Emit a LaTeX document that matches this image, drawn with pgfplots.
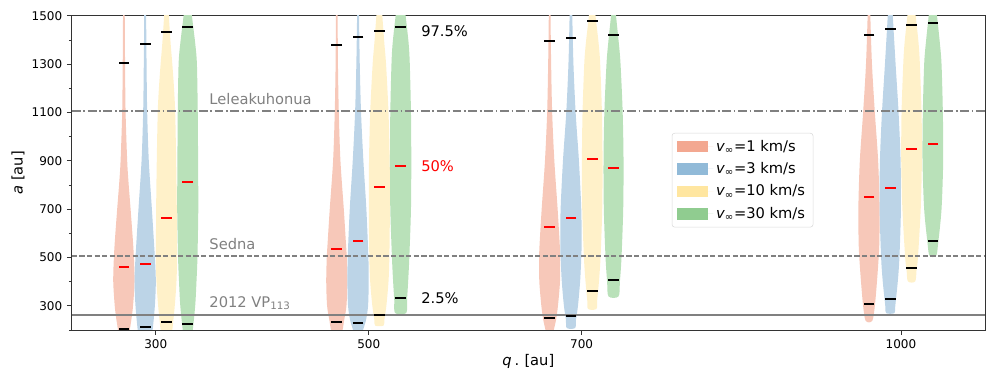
\documentclass[border=0pt]{standalone}
\usepackage{fontspec}
\setmainfont{DejaVu Sans}
\usepackage{pgfplots}
\usepackage{pgfplotstable}
\pgfplotsset{compat=1.18}

\definecolor{vred}{RGB}{247,200,185}
\definecolor{vblue}{RGB}{188,212,231}
\definecolor{vyellow}{RGB}{255,241,201}
\definecolor{vgreen}{RGB}{185,225,185}
\definecolor{lred}{RGB}{243,168,145}
\definecolor{lblue}{RGB}{145,186,216}
\definecolor{lyellow}{RGB}{255,230,160}
\definecolor{lgreen}{RGB}{144,204,144}

% violin outlines: y = a [au], w = half width in q units
\pgfplotstableread{
y w
1560 0.6
1500 0.8
1300 1.1
1100 1.6
900 3.1
808 4.4
700 6.3
587 8.2
500 9.4
400 10
300 8.6
242 7
200 5.5
150 3.5
}\gAr
\pgfplotstableread{
y w
1560 0.7
1500 0.9
1300 1.3
1100 1.9
900 3.4
700 6.3
500 9.1
400 10
300 9.1
200 7
150 5
}\gAb
\pgfplotstableread{
y w
1560 1.5
1500 2.2
1386 3.9
1300 5.5
1207 7
1100 8.2
900 9.1
700 9.7
500 9.9
400 9.4
300 7.8
200 5.5
160 4
}\gAy
\pgfplotstableread{
y w
1560 2.5
1500 3.9
1386 7
1300 8.6
1100 9.4
900 9.7
700 9.9
500 9.1
400 8.2
300 7
200 4.7
170 3.5
}\gAg
\pgfplotstableread{
y w
1560 0.6
1500 0.8
1300 1.1
1100 1.9
900 3.45
700 6.6
560 8.6
500 9.4
400 9.9
300 9.1
242 7
200 5.5
170 4
}\gBr
\pgfplotstableread{
y w
1560 0.7
1500 0.9
1300 1.6
1100 2.8
900 5
700 7.8
500 9.7
400 10
300 9.4
242 7.5
200 4.7
170 2.5
}\gBb
\pgfplotstableread{
y w
1560 1.8
1500 2.8
1386 4.7
1300 6.3
1100 8.6
900 9.7
700 9.9
500 9.4
400 8.6
300 6.6
242 4.7
218 3.9
}\gBy
\pgfplotstableread{
y w
1560 3
1500 4.7
1386 7.5
1300 8.6
1100 9.7
900 10
700 9.7
500 8.15
400 7.05
325 6
270 5.2
}\gBg
\pgfplotstableread{
y w
1560 0.6
1500 0.8
1300 1.4
1100 2.35
900 4.4
700 7.5
560 9.4
500 9.9
400 9.7
300 7.8
242 6
200 3.9
170 2.5
}\gCr
\pgfplotstableread{
y w
1560 0.9
1500 1.25
1300 2.35
1100 4.4
900 7.5
700 9.7
560 10
500 9.7
400 8.6
300 6.6
242 4.7
208 3.9
}\gCb
\pgfplotstableread{
y w
1560 2
1500 3.1
1386 6
1300 7.5
1100 9.1
900 9.7
700 9.4
500 7.8
400 6.3
325 4.7
287 3.9
}\gCy
\pgfplotstableread{
y w
1560 1.2
1500 2.35
1386 5
1300 6.6
1100 8.6
900 9.4
700 9.1
500 7.5
400 6
339 4.7
}\gCg
\pgfplotstableread{
y w
1560 0.9
1500 1.25
1300 2.8
1100 5.5
900 8.6
700 10
560 9.7
500 9.1
400 7.5
300 5.5
238 3.1
}\gDr
\pgfplotstableread{
y w
1560 1.6
1500 2.35
1300 5
1100 7.8
900 9.7
700 10
500 8.6
400 7.05
300 4.7
270 3.9
}\gDb
\pgfplotstableread{
y w
1560 2.5
1500 3.9
1386 6.6
1300 7.8
1100 9.4
900 9.7
700 8.6
500 6
449 4.7
401 3.4
}\gDy
\pgfplotstableread{
y w
1560 2.5
1500 3.9
1386 6.6
1300 8.15
1100 9.4
900 9.7
700 8.15
560 5
507 3.1
}\gDg

% 2.5% / 97.5% and 50% values
\pgfplotstableread{
x y
270 205
270 1306
290 214
290 1383
310 232
310 1433
330 223
330 1455
470 232
470 1380
490 227
490 1413
510 263
510 1438
530 331
530 1455
670 249
670 1394
690 258
690 1409
710 362
710 1477
730 408
730 1422
970 309
970 1422
990 327
990 1445
1010 457
1010 1463
1030 570
1030 1471
}\outer
\pgfplotstableread{
x y
270 459
290 474
310 663
330 811
470 537
490 570
510 791
530 879
670 624
690 665
710 906
730 869
970 751
990 789
1010 948
1030 968
}\median

% right side going down, then the mirrored left side going up
\newcommand{\closeviolin}[1]{%
  \pgfplotstablesort[sort key=y, sort cmp=float <]{\revtab}{#1}%
  \pgfplotstablecreatecol[expr={1}]{s}{#1}%
  \pgfplotstablecreatecol[expr={-1}]{s}{\revtab}%
  \pgfplotstablevertcat{#1}{\revtab}%
}
\closeviolin{\gAr}\closeviolin{\gAb}\closeviolin{\gAy}\closeviolin{\gAg}
\closeviolin{\gBr}\closeviolin{\gBb}\closeviolin{\gBy}\closeviolin{\gBg}
\closeviolin{\gCr}\closeviolin{\gCb}\closeviolin{\gCy}\closeviolin{\gCg}
\closeviolin{\gDr}\closeviolin{\gDb}\closeviolin{\gDy}\closeviolin{\gDg}

\newcommand{\violin}[3]{%
  \addplot[fill=#3, draw=none, smooth, forget plot] table[x expr=#2+\thisrow{s}*\thisrow{w}, y=y] {#1} -- cycle;
}

\begin{document}
\begin{tikzpicture}
\begin{axis}[
    at={(0pt,0pt)}, anchor=south west,
    width=685pt, height=235.7pt, scale only axis,
    xmin=221, xmax=1079, ymin=200, ymax=1500,
    xtick={300,500,700,1000},
    ytick={300,500,...,1500},
    minor ytick={200,400,...,1400},
    tick align=outside, tick pos=left,
    major tick length=3.6pt, minor tick length=2.1pt,
    tick style={black!80, line width=0.6pt},
    axis line style={black!80, line width=0.6pt},
    ticklabel style={font=\fontsize{9}{10}\selectfont},
    /pgf/number format/assume math mode=true,
    /pgf/number format/1000 sep={},
    label style={font=\fontsize{11}{13}\selectfont},
    xlabel={\textit{q}\hspace{0.2em}.\hspace{0.35em}[au]},
    ylabel={\textit{a} [au]},
    xlabel style={at={(axis description cs:0.5,-0.0986)}, anchor=center},
    ylabel style={at={(axis description cs:-0.0588,0.5)}, anchor=center},
    legend style={at={(axis description cs:0.657,0.627)}, anchor=north west,
        draw=black!15, rounded corners=2pt, font=\fontsize{11}{13}\selectfont,
        row sep=3pt, inner xsep=4pt, inner ysep=3pt, cells={anchor=west}},
    legend image code/.code={\path[draw=none] (0pt,0pt) -- (27pt,0pt); \fill[#1, draw=none, sharp corners] (0pt,-4.4pt) rectangle (23pt,4.4pt);},
]
\violin{\gAr}{270}{vred}
\violin{\gAb}{290}{vblue}
\violin{\gAy}{310}{vyellow}
\violin{\gAg}{330}{vgreen}
\violin{\gBr}{470}{vred}
\violin{\gBb}{490}{vblue}
\violin{\gBy}{510}{vyellow}
\violin{\gBg}{530}{vgreen}
\violin{\gCr}{670}{vred}
\violin{\gCb}{690}{vblue}
\violin{\gCy}{710}{vyellow}
\violin{\gCg}{730}{vgreen}
\violin{\gDr}{970}{vred}
\violin{\gDb}{990}{vblue}
\violin{\gDy}{1010}{vyellow}
\violin{\gDg}{1030}{vgreen}

% reference objects
\addplot[gray, line width=1.15pt, dash pattern=on 6.7pt off 2pt on 1.2pt off 2pt, forget plot] coordinates {(221,1106) (1079,1106)};
\addplot[gray, line width=1.15pt, dash pattern=on 3.9pt off 1.8pt, forget plot] coordinates {(221,506) (1079,506)};
\addplot[gray, line width=1.15pt, forget plot] coordinates {(221,263) (1079,263)};

\addplot[only marks, mark=-, mark size=4pt, mark options={line width=1.5pt, black}, forget plot] table {\outer};
\addplot[only marks, mark=-, mark size=4pt, mark options={line width=1.5pt, red}, forget plot] table {\median};

\node[anchor=base west, text=gray, font=\fontsize{11}{13}\selectfont] at (axis cs:346,1132) {Leleakuhonua};
\node[anchor=base west, text=gray, font=\fontsize{11}{13}\selectfont] at (axis cs:346,532) {Sedna};
\node[anchor=base west, text=gray, font=\fontsize{11}{13}\selectfont] at (axis cs:346,295) {2012 VP\textsubscript{113}};
\node[anchor=base west, font=\fontsize{11}{13}\selectfont] at (axis cs:545,1416) {97.5\%};
\node[anchor=base west, text=red, font=\fontsize{11}{13}\selectfont] at (axis cs:545,855) {50\%};
\node[anchor=base west, font=\fontsize{11}{13}\selectfont] at (axis cs:545,309) {2.5\%};

\addlegendimage{fill=lred, draw=none}
\addlegendentry{\textit{v}\textsubscript{∞}=1 km/s}
\addlegendimage{fill=lblue, draw=none}
\addlegendentry{\textit{v}\textsubscript{∞}=3 km/s}
\addlegendimage{fill=lyellow, draw=none}
\addlegendentry{\textit{v}\textsubscript{∞}=10 km/s}
\addlegendimage{fill=lgreen, draw=none}
\addlegendentry{\textit{v}\textsubscript{∞}=30 km/s}
\end{axis}
\pgfresetboundingbox
\path (-53.8pt,-39.75pt) rectangle (694pt,247.5pt);
\end{tikzpicture}
\end{document}
